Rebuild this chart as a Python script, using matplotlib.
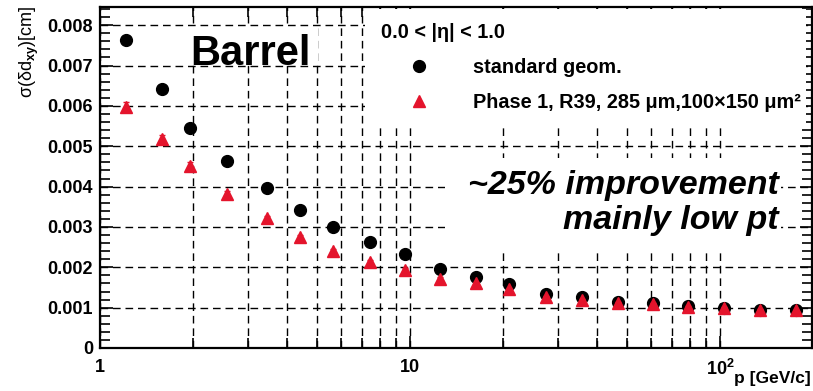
import numpy as np
import matplotlib
matplotlib.use("Agg")
import matplotlib.pyplot as plt
from matplotlib.ticker import LogLocator, MultipleLocator, FuncFormatter, NullFormatter
from matplotlib.patches import Rectangle

# ---- data -------------------------------------------------------------
p_gev = [1.21, 1.59, 1.95, 2.56, 3.45, 4.42, 5.66, 7.43, 9.63, 12.5,
         16.3, 20.9, 27.5, 35.8, 47.0, 60.9, 78.6, 103.0, 134.6, 175.5]

sigma_std = [0.00763, 0.00643, 0.00546, 0.00463, 0.00397, 0.00342, 0.00299,
             0.00263, 0.00233, 0.00196, 0.00176, 0.00158, 0.00134, 0.00126,
             0.00115, 0.00111, 0.00104, 0.00100, 0.00095, 0.00094]
err_std = [0.00016, 0.00012, 0.00010, 0.00008, 0.00007, 0.00006, 0.00005,
           0.00005, 0.00004, 0.00004, 0.00003, 0.00003, 0.00003, 0.00003,
           0.00002, 0.00002, 0.00002, 0.00002, 0.00002, 0.00002]

sigma_ph1 = [0.00598, 0.00517, 0.00452, 0.00381, 0.00321, 0.00276, 0.00241,
             0.00213, 0.00194, 0.00172, 0.00160, 0.00145, 0.00126, 0.00119,
             0.00112, 0.00109, 0.00102, 0.00099, 0.00095, 0.00093]
err_ph1 = [0.00012, 0.00010, 0.00008, 0.00007, 0.00006, 0.00005, 0.00004,
           0.00004, 0.00004, 0.00003, 0.00003, 0.00003, 0.00002, 0.00002,
           0.00002, 0.00002, 0.00002, 0.00002, 0.00002, 0.00002]

label_std = "standard geom."
label_ph1 = "Phase 1, R39, 285 \u03bcm,100\u00d7150 \u03bcm\u00b2"
eta_range = "0.0 < |\u03b7| < 1.0"

# ---- style ------------------------------------------------------------
FONT = "Liberation Sans"
plt.rcParams["font.family"] = [FONT, "DejaVu Sans"]
plt.rcParams["font.weight"] = "bold"
plt.rcParams["mathtext.fontset"] = "custom"
plt.rcParams["mathtext.rm"] = FONT + ":bold"
plt.rcParams["mathtext.bf"] = FONT + ":bold"
plt.rcParams["mathtext.it"] = FONT + ":bold:italic"

W, H = 813, 391
fig = plt.figure(figsize=(W / 100, H / 100), dpi=100)


def fx(px):
    return px / W


def fy(py):
    return 1 - py / H


ax = fig.add_axes([fx(100), fy(348), fx(812) - fx(100), fy(7) - fy(348)])
ax.set_xscale("log")
ax.set_xlim(1, 198)
ax.set_ylim(0, 0.00845)

RED = "#e4142c"
ms = 8.5
eb_std = ax.errorbar(p_gev, sigma_std, yerr=err_std, fmt="o", color="black",
                     ms=ms, elinewidth=1.2, capsize=0, zorder=4, label=label_std)
eb_ph1 = ax.errorbar(p_gev, sigma_ph1, yerr=err_ph1, fmt="^", color=RED,
                     ms=ms, elinewidth=1.2, capsize=2, zorder=5, label=label_ph1)

# ---- axes, ticks, grid ------------------------------------------------
ax.xaxis.set_major_locator(LogLocator(base=10, numticks=10))
ax.xaxis.set_minor_locator(LogLocator(base=10, subs=np.arange(2, 10), numticks=20))
ax.xaxis.set_minor_formatter(NullFormatter())


def xfmt(v, pos):
    if abs(v - 1) < 1e-9:
        return "1"
    if abs(v - 10) < 1e-9:
        return "10"
    if abs(v - 100) < 1e-9:
        return r"$\mathbf{10^{2}}$"
    return ""


ax.xaxis.set_major_formatter(FuncFormatter(xfmt))
ax.yaxis.set_major_locator(MultipleLocator(0.001))
ax.yaxis.set_minor_locator(MultipleLocator(0.0002))
ax.yaxis.set_major_formatter(FuncFormatter(lambda v, pos: "0" if abs(v) < 1e-12 else f"{v:.3f}"))

ax.tick_params(which="both", direction="in", top=True, right=True, width=1.2,
               labelsize=13, colors="black")
ax.tick_params(which="major", length=9)
ax.tick_params(which="minor", length=7)
ax.tick_params(axis="x", which="major", pad=8)
ax.tick_params(axis="y", which="major", pad=5)

grid_style = dict(color="black", linewidth=1.0, linestyle=(0, (5.5, 3.5)))
ax.grid(True, axis="x", which="both", **grid_style)
ax.grid(True, axis="y", which="major", **grid_style)
ax.grid(False, axis="y", which="minor")

for s in ax.spines.values():
    s.set_linewidth(1.6)

# white panels behind the annotations
for (x0, y0, x1, y1) in [(186, 28, 318, 63), (365, 9, 806, 124), (445, 158, 781, 252)]:
    ax.add_patch(Rectangle((fx(x0), fy(y1)), fx(x1) - fx(x0), fy(y0) - fy(y1),
                           transform=fig.transFigure, facecolor="white",
                           edgecolor="none", zorder=2))

# ---- texts ------------------------------------------------------------
fig.text(fx(190), fy(65), "Barrel", fontsize=30, fontweight="bold",
         ha="left", va="baseline", zorder=6)
fig.text(fx(779), fy(185), "~25% improvement", fontsize=24.5, fontweight="bold",
         style="italic", ha="right", va="center", zorder=6)
fig.text(fx(779), fy(220), "mainly low pt", fontsize=24.5, fontweight="bold",
         style="italic", ha="right", va="center", zorder=6)

leg = ax.legend(handles=[eb_std[0], eb_ph1[0]], labels=[label_std, label_ph1],
                title=eta_range, loc="upper left",
                bbox_to_anchor=(fx(381), fy(23)), bbox_transform=fig.transFigure,
                frameon=False, numpoints=1, handlelength=3.8, handletextpad=0.85,
                labelspacing=0.8, borderpad=0, borderaxespad=0,
                alignment="left",
                prop={"family": FONT, "weight": "bold", "size": 14.3},
                title_fontproperties={"family": FONT, "weight": "bold", "size": 14.3})
leg.set_zorder(6)

fig.text(fx(811), fy(379), "p [GeV/c]", fontsize=12.5, fontweight="bold",
         ha="right", va="center")
fig.text(fx(29), fy(5), r"σ(δd$_{\mathrm{xy}}$)[cm]", fontsize=13, fontweight="normal",
         rotation=90, ha="center", va="top")

fig.savefig("out.png", dpi=100)
